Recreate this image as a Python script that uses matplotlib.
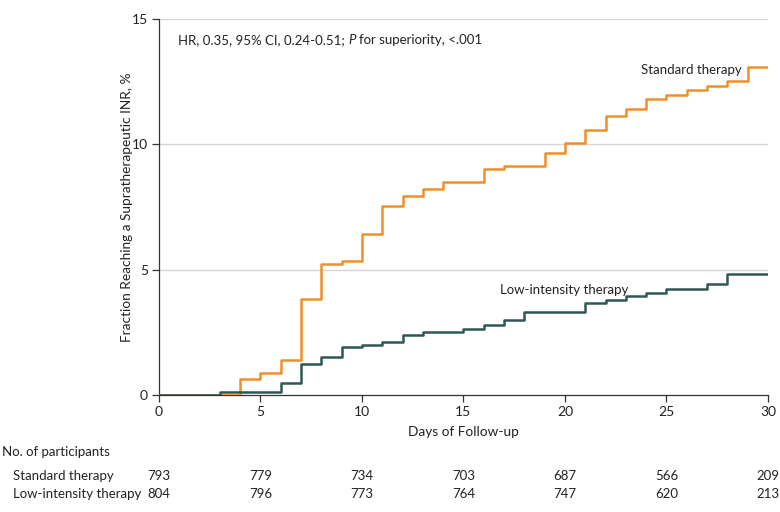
import matplotlib
matplotlib.use("Agg")
import matplotlib.pyplot as plt
import matplotlib.transforms as mtransforms

plt.rcParams['font.family'] = ['Lato', 'DejaVu Sans']

# Kaplan-Meier style cumulative incidence (%)
std_days = [0, 4, 5, 6, 7, 8, 9, 10, 11, 12, 13, 14, 16, 17, 19, 20, 21, 22, 23, 24, 25, 26, 27, 28, 29, 30]
std_pct = [0, 0.63, 0.89, 1.41, 3.83, 5.22, 5.35, 6.41, 7.55, 7.95, 8.21, 8.5, 9.0, 9.13, 9.66, 10.05,
           10.57, 11.12, 11.4, 11.82, 11.97, 12.17, 12.33, 12.52, 13.1, 13.1]

low_days = [0, 3, 6, 7, 8, 9, 10, 11, 12, 13, 15, 16, 17, 18, 21, 22, 23, 24, 25, 27, 28, 30]
low_pct = [0, 0.12, 0.49, 1.25, 1.5, 1.9, 1.98, 2.13, 2.38, 2.51, 2.63, 2.78, 2.99, 3.3, 3.68, 3.79,
           3.95, 4.08, 4.23, 4.44, 4.84, 4.84]

# number at risk table
risk_days = [0, 5, 10, 15, 20, 25, 30]
std_risk = [793, 779, 734, 703, 687, 566, 209]
low_risk = [804, 796, 773, 764, 747, 620, 213]

orange = '#EE8F2B'
teal = '#2F5756'
txt = '#222222'
fs = 9.5

fig = plt.figure(figsize=(7.8, 5.12), dpi=100)
ax = fig.add_axes([0.2038, 0.2285, 0.7808, 0.7345])

# gridlines
for g in [5, 10, 15]:
    ax.axhline(g, color='#d6d6d6', lw=1.0, zorder=0)

ax.step(std_days, std_pct, where='post', color=orange, lw=1.8, zorder=3)
ax.step(low_days, low_pct, where='post', color=teal, lw=1.8, zorder=3)

ax.set_xlim(0, 30)
ax.set_ylim(0, 15)
ax.set_xticks(range(0, 31, 5))
ax.set_yticks([0, 5, 10, 15])

for s in ['top', 'right']:
    ax.spines[s].set_visible(False)
for s in ['left', 'bottom']:
    ax.spines[s].set_color('#333333')
    ax.spines[s].set_linewidth(0.9)
ax.tick_params(axis='both', length=5, width=0.9, color='#333333', labelsize=fs + 0.5, labelcolor=txt, pad=3)

ax.set_xlabel('Days of Follow-up', fontsize=fs + 0.3, color=txt, labelpad=6)
ax.set_ylabel('Fraction Reaching a Supratherapeutic INR, %', fontsize=fs + 0.3, color=txt, labelpad=-1)

# header with italic P
ax.text(0.95, 14.15, 'HR, 0.35, 95% CI, 0.24-0.51; ', fontsize=fs, color=txt, va='center', ha='left')
fig.canvas.draw()
r = fig.canvas.get_renderer()
bb = ax.texts[-1].get_window_extent(renderer=r)
x_next = ax.transData.inverted().transform((bb.x1, bb.y0))[0]
ax.text(x_next, 14.15, 'P', fontsize=fs, color=txt, va='center', ha='left', style='italic')
bb2 = ax.texts[-1].get_window_extent(renderer=r)
x_next2 = ax.transData.inverted().transform((bb2.x1 + 3, bb2.y0))[0]
ax.text(x_next2, 14.15, 'for superiority, <.001', fontsize=fs, color=txt, va='center', ha='left')

ax.text(28.7, 12.95, 'Standard therapy', fontsize=fs, color=txt, va='center', ha='right')
ax.text(16.8, 4.2, 'Low-intensity therapy', fontsize=fs, color=txt, va='center', ha='left')

# number at risk
trans = mtransforms.blended_transform_factory(ax.transData, fig.transFigure)
fig.text(0.003, 0.117, 'No. of participants', fontsize=fs, color=txt, va='center', ha='left')
fig.text(0.017, 0.070, 'Standard therapy', fontsize=fs, color=txt, va='center', ha='left')
fig.text(0.017, 0.035, 'Low-intensity therapy', fontsize=fs, color=txt, va='center', ha='left')
for d, a, b in zip(risk_days, std_risk, low_risk):
    ax.text(d, 0.070, str(a), transform=trans, fontsize=fs, color=txt, va='center', ha='center', clip_on=False)
    ax.text(d, 0.035, str(b), transform=trans, fontsize=fs, color=txt, va='center', ha='center', clip_on=False)

fig.savefig('out.png', dpi=100)
